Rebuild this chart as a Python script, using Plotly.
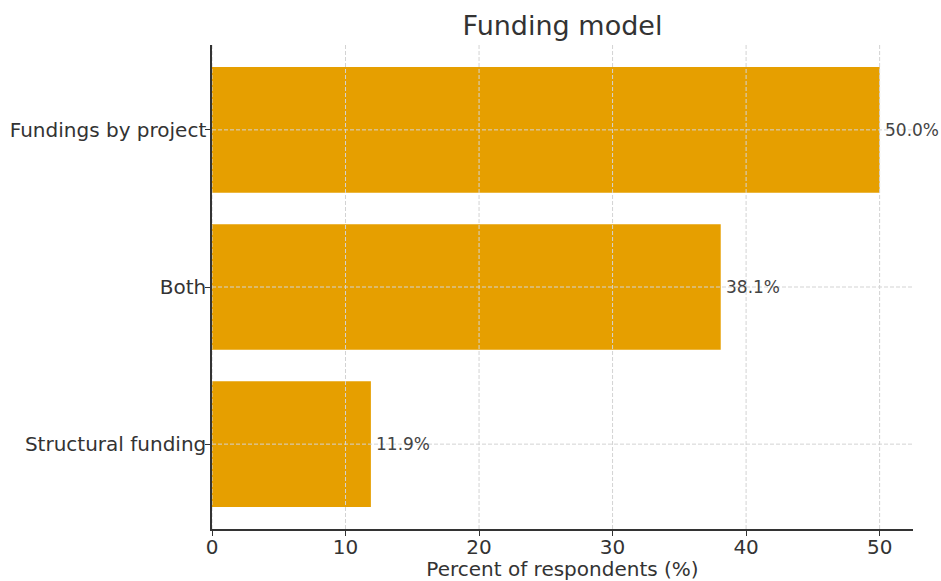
import plotly.graph_objects as go

# Survey results: share of respondents per funding model
categories = ["Structural funding", "Both", "Fundings by project"]
percentages = [11.9, 38.1, 50.0]
x_ticks = [0, 10, 20, 30, 40, 50]

bar_color = "#E69F00"
font_family = "DejaVu Sans"
text_color = "#333333"

fig = go.Figure()
fig.add_trace(go.Bar(
    y=list(range(len(categories))),
    x=percentages,
    orientation="h",
    width=0.8,
    marker=dict(color=bar_color, line=dict(width=0)),
    hoverinfo="skip",
))

# Value labels just past the end of each bar
for i, v in enumerate(percentages):
    fig.add_annotation(
        x=v, y=i, xref="x", yref="y",
        text=f"{v:.1f}%", showarrow=False,
        xanchor="left", yanchor="middle", xshift=3,
        font=dict(family=font_family, size=17, color="#444444"),
    )

# Dashed grid drawn over the bars
grid_style = dict(color="#d3d3d3", width=1, dash="4px,2px")
for t in x_ticks:
    fig.add_shape(type="line", xref="x", yref="paper", x0=t, x1=t, y0=0, y1=1,
                  line=grid_style, layer="above")
for i in range(len(categories)):
    fig.add_shape(type="line", xref="paper", yref="y", x0=0, x1=1, y0=i, y1=i,
                  line=grid_style, layer="above")

axis_common = dict(
    showgrid=False, zeroline=False, automargin=False,
    showline=True, linecolor=text_color, linewidth=1.5,
    ticks="outside", ticklen=5, tickwidth=1.2, tickcolor=text_color,
    tickfont=dict(family=font_family, size=20, color=text_color),
)

fig.update_layout(
    width=941, height=581,
    margin=dict(l=212, r=28, t=45, b=52),
    paper_bgcolor="white", plot_bgcolor="white",
    showlegend=False,
    font=dict(family=font_family, color=text_color),
    title=dict(text="Funding model", x=(212 + 701 / 2) / 941, xanchor="center",
               y=1 - 26 / 581, yanchor="middle",
               font=dict(family=font_family, size=27, color=text_color)),
    xaxis=dict(
        range=[0, 52.5], tickvals=x_ticks, ticktext=[str(t) for t in x_ticks],
        ticklabelstandoff=-6,
        title=dict(text="Percent of respondents (%)", standoff=8,
                   font=dict(family=font_family, size=20, color=text_color)),
        **axis_common,
    ),
    yaxis=dict(
        range=[-0.54, 2.54], tickvals=list(range(len(categories))), ticktext=categories,
        ticklabelstandoff=-5,
        **axis_common,
    ),
)

fig.write_html("out.html")
